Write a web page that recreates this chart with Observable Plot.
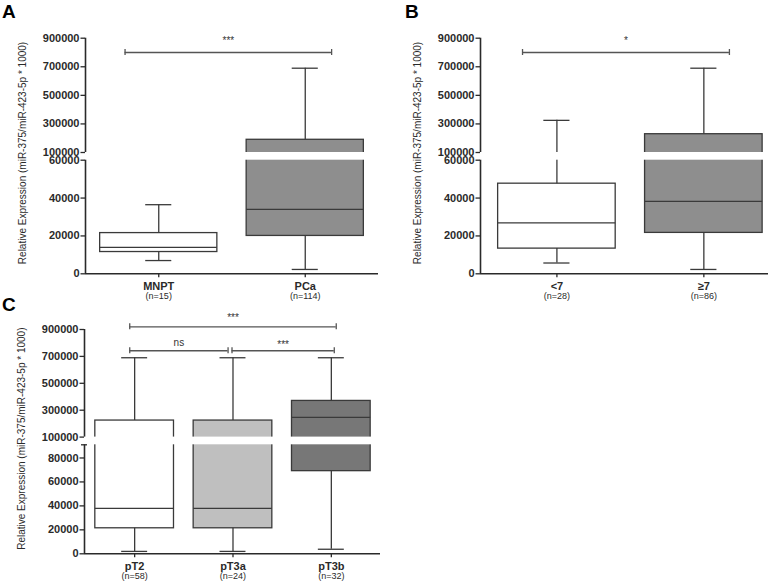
<!DOCTYPE html>
<html><head><meta charset="utf-8">
<script src="https://cdn.jsdelivr.net/npm/d3@7"></script>
<script src="https://cdn.jsdelivr.net/npm/@observablehq/plot@0.6"></script>
<style>
body{margin:0;background:#fff;}
#root{position:relative;width:778px;height:582px;overflow:hidden;font-family:"Liberation Sans",Arial,sans-serif;background:#fff;}
.panel{position:absolute;}
.letter{position:absolute;font-weight:bold;font-size:19px;color:#000;line-height:1;}
</style></head><body><div id="root"></div>
<script>
// ---------- DATA ----------
const yLabel = "Relative Expression (miR-375/miR-423-5p * 1000)";

// Panel A
const aGroups = ["MNPT", "PCa"];
const aN = ["(n=15)", "(n=114)"];
const aMin = [7000, 2300];
const aQ1 = [11500, 20000];
const aMedian = [14000, 34000];
const aQ3 = [21500, 189000];
const aMax = [36500, 690000];
const aTicks = [0, 20000, 40000, 60000, 100000, 300000, 500000, 700000, 900000];
const aSigLabels = ["***"];
const aSigY = [800000];

// Panel B
const bGroups = ["<7", "≥7"];
const bN = ["(n=28)", "(n=86)"];
const bMin = [5700, 2300];
const bQ1 = [13300, 21600];
const bMedian = [26900, 38200];
const bQ3 = [47600, 228000];
const bMax = [325000, 690000];
const bTicks = [0, 20000, 40000, 60000, 100000, 300000, 500000, 700000, 900000];
const bSigLabels = ["*"];
const bSigY = [800000];

// Panel C
const cGroups = ["pT2", "pT3a", "pT3b"];
const cN = ["(n=58)", "(n=24)", "(n=32)"];
const cMin = [2000, 2000, 3800];
const cQ1 = [21300, 21300, 69000];
const cMedian = [38000, 38000, 247000];
const cQ3 = [223000, 223000, 369000];
const cMax = [690000, 690000, 690000];
const cTicks = [0, 20000, 40000, 60000, 80000, 100000, 300000, 500000, 700000, 900000];
const cSigLabels = ["***", "ns", "***"];
const cSigY = [920000, 742000, 742000];

// ---------- STYLE / LAYOUT ----------
const axisColor = "#2a2a2a";
const boxStroke = "#3a3a3a";
const sigColor = "#555";

const panels = [
  {groups: aGroups, n: aN, min: aMin, q1: aQ1, median: aMedian, q3: aQ3, max: aMax, ticks: aTicks,
   sigLabels: aSigLabels, sigY: aSigY, sigX1: [-0.23], sigX2: [1.18], sigDy: [-12],
   fills: ["#ffffff", "#8e8e8e"],
   left: 0, top: 0, width: 390, height: 305, marginLeft: 85, marginRight: 12,
   yDomain: [0, 60000, 100000, 900000], yRange: [273.3, 159.7, 152, 37.7], brk: [60000, 100000],
   xDomain: [-0.5, 1.5], cap: 0.089, capLower: false},
  {groups: bGroups, n: bN, min: bMin, q1: bQ1, median: bMedian, q3: bQ3, max: bMax, ticks: bTicks,
   sigLabels: bSigLabels, sigY: bSigY, sigX1: [-0.234], sigX2: [1.174], sigDy: [-12],
   fills: ["#ffffff", "#8e8e8e"],
   left: 390, top: 0, width: 388, height: 305, marginLeft: 90, marginRight: 10,
   yDomain: [0, 60000, 100000, 900000], yRange: [273.3, 159.7, 152, 37.7], brk: [60000, 100000],
   xDomain: [-0.52, 1.44], cap: 0.089, capLower: false},
  {groups: cGroups, n: cN, min: cMin, q1: cQ1, median: cMedian, q3: cQ3, max: cMax, ticks: cTicks,
   sigLabels: cSigLabels, sigY: cSigY, sigX1: [-0.05, -0.05, 0.99], sigX2: [2.05, 0.95, 2.03], sigDy: [-9, -8, -6],
   fills: ["#ffffff", "#bfbfbf", "#777777"],
   left: 0, top: 290, width: 390, height: 292, marginLeft: 84, marginRight: 10,
   yDomain: [0, 91000, 100000, 900000], yRange: [263.3, 154.3, 146.6, 39], brk: [91000, 100000],
   xDomain: [-0.51, 2.5], cap: 0.132, capLower: true}
];
const BOX = 0.4;

const root = document.getElementById("root");

function makePanel(p) {
  const rows = p.groups.map((g, i) => ({i, g, n: p.n[i], min: p.min[i], q1: p.q1[i], median: p.median[i], q3: p.q3[i], max: p.max[i]}));
  const sig = p.sigLabels.map((l, k) => ({label: l, y: p.sigY[k], x1: p.sigX1[k], x2: p.sigX2[k], dy: p.sigDy[k]}));
  const sigEnds = sig.flatMap(s => [{x: s.x1, y: s.y}, {x: s.x2, y: s.y}]);
  const [lo, hi] = p.brk;
  const top = p.yDomain[p.yDomain.length - 1];
  const xd = p.xDomain;
  const marks = [];
  rows.forEach((r, i) => {
    marks.push(Plot.rect([r], {x1: d => d.i - BOX, x2: d => d.i + BOX, y1: "q1", y2: "q3", fill: p.fills[i], stroke: boxStroke, strokeWidth: 1.3}));
  });
  marks.push(
    Plot.ruleX(rows, {x: "i", y1: "min", y2: "q1", stroke: boxStroke, strokeWidth: 1.3}),
    Plot.ruleX(rows, {x: "i", y1: "q3", y2: "max", stroke: boxStroke, strokeWidth: 1.3}),
    Plot.ruleY(rows, {y: "min", x1: d => d.i - p.cap, x2: d => d.i + p.cap, stroke: boxStroke, strokeWidth: 1.3}),
    Plot.ruleY(rows, {y: "max", x1: d => d.i - p.cap, x2: d => d.i + p.cap, stroke: boxStroke, strokeWidth: 1.3}),
    Plot.ruleY(rows, {y: "median", x1: d => d.i - BOX, x2: d => d.i + BOX, stroke: boxStroke, strokeWidth: 1.3}),
    // white break band
    Plot.rect([0], {x1: xd[0], x2: xd[1], y1: lo, y2: hi, fill: "white", insetLeft: 1.5}),
    // axis lines
    Plot.ruleX([xd[0]], {y1: 0, y2: lo, stroke: axisColor, strokeWidth: 1.6}),
    Plot.ruleX([xd[0]], {y1: hi, y2: top, stroke: axisColor, strokeWidth: 1.6}),
    Plot.ruleY([0], {x1: xd[0], x2: xd[1], stroke: axisColor, strokeWidth: 1.6}),
    Plot.axisY(p.ticks, {tickSize: 4.5, tickPadding: 1.5, tickFormat: d => String(d), fontWeight: "bold", fontSize: 11, color: axisColor, strokeWidth: 1.3, label: null}),
    Plot.axisX(rows.map(d => d.i), {tickSize: 4, tickPadding: 4, tickFormat: i => p.groups[i], fontWeight: "bold", fontSize: 11, color: axisColor, strokeWidth: 1.3, label: null}),
    Plot.text(rows, {x: "i", frameAnchor: "bottom", dy: 25, text: "n", fontSize: 9, fill: axisColor}),
    Plot.text([yLabel], {frameAnchor: "left", textAnchor: "middle", lineAnchor: "middle", rotate: -90, dx: -63, dy: -3, text: d => d, fontSize: 10, fill: axisColor}),
    // significance brackets
    Plot.ruleY(sig, {y: "y", x1: "x1", x2: "x2", stroke: sigColor, strokeWidth: 1.3}),
    Plot.ruleX(sigEnds, {x: "x", y1: "y", y2: "y", insetTop: -3, insetBottom: -3, stroke: sigColor, strokeWidth: 1.3})
  );
  sig.forEach(s => {
    marks.push(Plot.text([s], {x: d => (d.x1 + d.x2) / 2, y: "y", text: "label", dy: s.dy, fontSize: 10, fill: "#333"}));
  });
  if (p.capLower) {
    marks.push(Plot.ruleY([lo], {x1: xd[0], x2: xd[0], insetLeft: -3, insetRight: -3, stroke: axisColor, strokeWidth: 1.3}));
  }
  const chart = Plot.plot({
    width: p.width, height: p.height,
    marginLeft: p.marginLeft, marginRight: p.marginRight,
    marginTop: p.yRange[p.yRange.length - 1], marginBottom: p.height - p.yRange[0],
    x: {type: "linear", domain: xd},
    y: {type: "linear", domain: p.yDomain, range: p.yRange},
    style: {background: "transparent", overflow: "visible", fontFamily: "Liberation Sans, Arial, sans-serif"},
    marks
  });
  chart.classList.add("panel");
  chart.style.left = p.left + "px";
  chart.style.top = p.top + "px";
  chart.style.position = "absolute";
  root.appendChild(chart);
}
panels.forEach(makePanel);

[["A", 2, 2], ["B", 405, 2], ["C", 2, 295]].forEach(([t, x, y]) => {
  const d = document.createElement("div");
  d.className = "letter"; d.textContent = t;
  d.style.left = x + "px"; d.style.top = y + "px";
  root.appendChild(d);
});
</script>
</body></html>
